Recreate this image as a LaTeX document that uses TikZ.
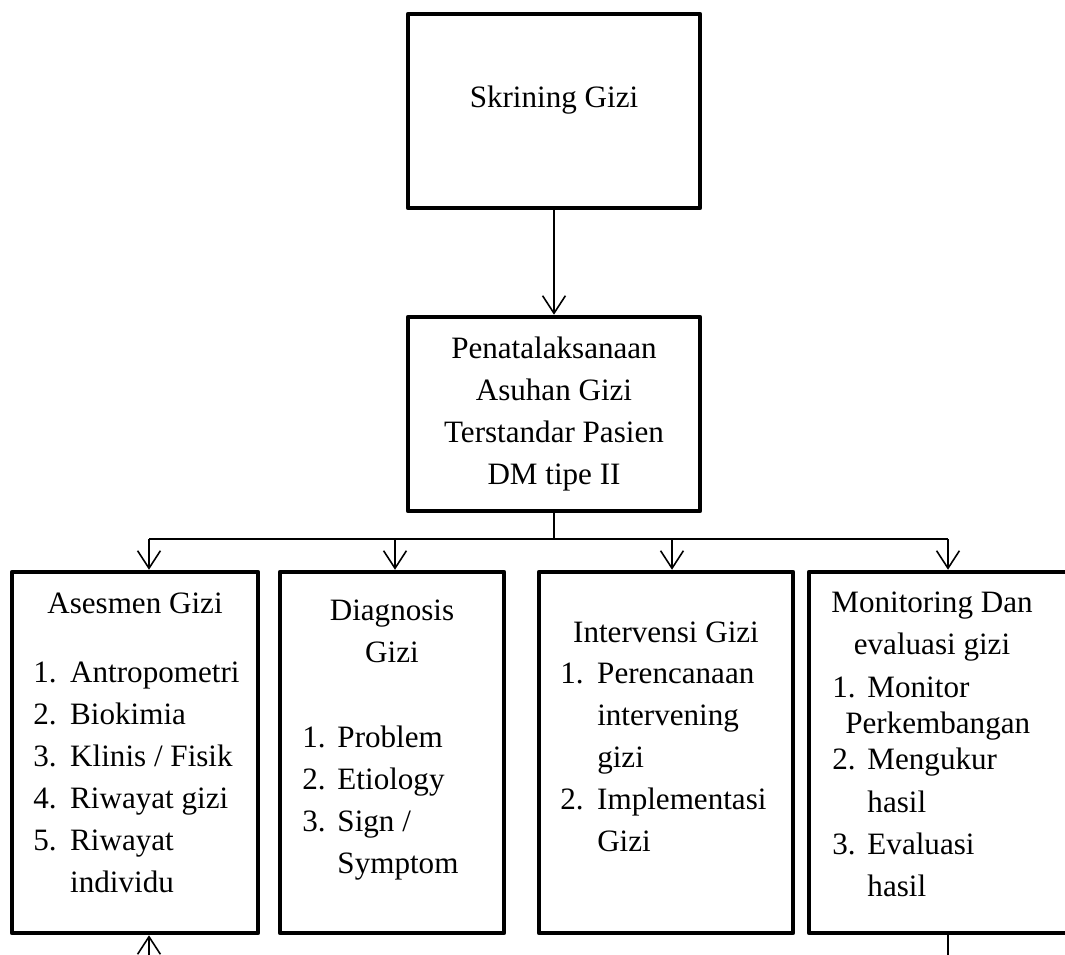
\documentclass[tikz,border=0pt]{standalone}
\usepackage{fontspec}
\setmainfont{Liberation Serif}
\usetikzlibrary{arrows.meta}

\begin{document}
\begin{tikzpicture}[x=0.02cm, y=-0.02cm,
    box/.style={draw, line width=2.6pt, inner sep=0pt, line join=round},
    txt/.style={inner sep=0pt, anchor=base, font=\fontsize{17.7}{24}\selectfont},
    lst/.style={txt, anchor=base west},
    link/.style={line width=0.9pt},
    >={Straight Barb[length=10pt,width=13pt]}]
    \useasboundingbox (0,0) rectangle (1065,954);
    \clip (0,0) rectangle (1065,954);

    \node[box, minimum width=5.84cm, minimum height=3.88cm] (skrining) at (554,111) {};
    \node[txt] (skrining-t) at (554,107) {Skrining Gizi};

    \node[box, minimum width=5.84cm, minimum height=3.88cm] (penata) at (554,414) {};
    \node[txt] (penata-t) at (554,358) {\begin{tabular}[t]{@{}c@{}}Penatalaksanaan\\Asuhan Gizi\\Terstandar Pasien\\DM tipe II\end{tabular}};

    \node[box, minimum width=4.92cm, minimum height=7.22cm] (asesmen) at (135,752.5) {};
    \node[txt] (asesmen-t) at (135,613) {Asesmen Gizi};
    \node[lst] (asesmen-l) at (33,682) {\begin{tabular}[t]{@{}p{21pt}@{}l@{}}
        1. & Antropometri\\ 2. & Biokimia\\ 3. & Klinis / Fisik\\
        4. & Riwayat gizi\\ 5. & Riwayat\\ & individu\end{tabular}};

    \node[box, minimum width=4.48cm, minimum height=7.22cm] (diagnosis) at (392,752.5) {};
    \node[txt] (diagnosis-t) at (392,620) {\begin{tabular}[t]{@{}c@{}}Diagnosis\\Gizi\end{tabular}};
    \node[lst] (diagnosis-l) at (302,747) {\begin{tabular}[t]{@{}p{20pt}@{}l@{}}
        1. & Problem\\ 2. & Etiology\\ 3. & Sign /\\ & Symptom\end{tabular}};

    \node[box, minimum width=5.08cm, minimum height=7.22cm] (intervensi) at (666,752.5) {};
    \node[txt] (intervensi-t) at (666,642) {Intervensi Gizi};
    \node[lst] (intervensi-l) at (560,683) {\begin{tabular}[t]{@{}p{21pt}@{}l@{}}
        1. & Perencanaan\\ & intervening\\ & gizi\\ 2. & Implementasi\\ & Gizi\end{tabular}};

    \node[box, minimum width=5.32cm, minimum height=7.22cm] (monev) at (942,752.5) {};
    \node[txt] (monev-t) at (932,612) {\begin{tabular}[t]{@{}c@{}}Monitoring Dan\\evaluasi gizi\end{tabular}};
    \node[lst] (monev-l) at (832,697) {\begin{tabular}[t]{@{}p{20pt}@{}l@{}}
        1. & Monitor\\[-3.5pt]
        \multicolumn{2}{@{\hspace{7.4pt}}l@{}}{Perkembangan}\\[-3pt]
        2. & Mengukur\\ & hasil\\ 3. & Evaluasi\\ & hasil\end{tabular}};

    \coordinate (bus) at (554,539);
    \coordinate (b1) at (149,539);
    \coordinate (b2) at (395,539);
    \coordinate (b3) at (672,539);
    \coordinate (b4) at (948,539);
    \coordinate (in1) at (149,960);
    \coordinate (out4) at (948,960);

    \draw[link,->] (skrining) -- (penata);
    \draw[link] (penata) -- (bus);
    \draw[link] (b1) -- (b4);
    \foreach \b/\n in {b1/asesmen,b2/diagnosis,b3/intervensi,b4/monev}
        \draw[link,->] (\b) -- (\b |- \n.north);
    \draw[link,->] (in1) -- (in1 |- asesmen.south);
    \draw[link] (monev.south -| out4) -- (out4);
\end{tikzpicture}
\end{document}
